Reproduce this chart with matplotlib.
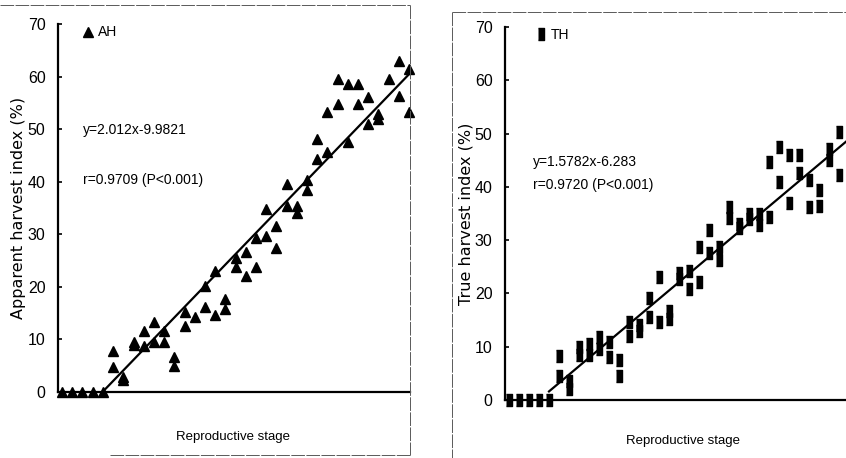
import numpy as np
import matplotlib
matplotlib.use('Agg')
import matplotlib.pyplot as plt
from matplotlib.lines import Line2D

plt.rcParams['font.family'] = ['Liberation Sans', 'DejaVu Sans']

# apparent harvest index (AH), two readings per reproductive stage
ah_stage = [1, 2, 3, 4, 5,
            6, 6, 7, 7, 8, 8, 9, 9, 10, 10, 11, 11, 12, 12, 13, 13,
            14, 15, 15, 16, 16, 17, 17, 18, 18, 19, 19, 20, 20, 21, 21,
            22, 22, 23, 23, 24, 24, 25, 25, 26, 26, 27, 27, 28, 28,
            29, 29, 30, 30, 31, 31, 32, 32, 33, 34, 34, 35, 35]
ah_value = [0, 0, 0, 0, 0,
            7.8, 4.8, 2.9, 2.2, 9.5, 9.0, 11.6, 8.8, 13.4, 9.6, 11.6, 9.5, 6.6, 5.0, 15.3, 12.6,
            14.3, 20.2, 16.2, 23.0, 14.7, 17.7, 15.8, 25.4, 23.8, 26.7, 22.1, 29.2, 23.8, 34.9, 29.6,
            31.5, 27.3, 39.5, 35.3, 35.3, 34.1, 40.4, 38.5, 48.1, 44.3, 53.2, 45.6, 59.5, 54.8,
            58.6, 47.5, 58.6, 54.8, 56.1, 51.0, 52.9, 52.0, 59.5, 63.0, 56.3, 61.4, 53.2]

# true harvest index (TH)
th_stage = [1, 2, 3, 4, 5,
            6, 6, 7, 7, 8, 8, 9, 9, 10, 10, 11, 11, 12, 12, 13, 13,
            14, 14, 15, 15, 16, 16, 17, 17, 18, 18, 19, 19, 20, 20, 21, 21,
            22, 22, 23, 23, 24, 24, 25, 25, 26, 26, 27, 27, 28, 28,
            29, 29, 30, 30, 31, 31, 32, 32, 33, 33, 34, 34]
th_value = [0, 0, 0, 0, 0,
            8.2, 4.5, 3.5, 2.0, 10.0, 8.5, 10.5, 8.5, 11.8, 9.6, 10.9, 8.0, 7.5, 4.5, 14.6, 12.0,
            14.0, 13.0, 19.1, 15.6, 23.1, 14.6, 16.7, 15.2, 23.8, 22.7, 24.2, 20.8, 28.7, 22.1, 31.9, 27.6,
            28.8, 26.2, 36.2, 34.1, 33.0, 32.2, 35.0, 34.0, 35.0, 32.8, 44.7, 34.3, 47.5, 41.0,
            46.0, 37.0, 46.0, 42.6, 41.3, 36.2, 39.4, 36.4, 47.1, 45.0, 50.3, 42.2]

ah_fit = (2.012, -9.9821)
th_fit = (1.5782, -6.283)
yticks = [0, 10, 20, 30, 40, 50, 60, 70]

W, H = 846, 458
fig = plt.figure(figsize=(W / 100, H / 100), dpi=100)


def px_axes(x0, y0, x1, y1):
    # pixel box (top-left origin) -> figure fraction
    return fig.add_axes([x0 / W, 1 - y1 / H, (x1 - x0) / W, (y1 - y0) / H])


def style_axes(ax, xlim, ylabel):
    ax.set_xlim(*xlim)
    ax.set_ylim(0, 70)
    ax.set_yticks(yticks)
    ax.set_xticks([])
    for side in ('top', 'right'):
        ax.spines[side].set_visible(False)
    for side in ('left', 'bottom'):
        ax.spines[side].set_linewidth(1.6)
    ax.tick_params(axis='y', direction='in', length=3, width=1.2,
                   labelsize=11.5, pad=9)
    ax.set_ylabel(ylabel, family='DejaVu Sans', fontsize=11.5, labelpad=1)


# left panel: AH
ax1 = px_axes(58, 24, 410, 392)
style_axes(ax1, (0.6, 35.1), 'Apparent harvest index (%)')
ax1.plot(ah_stage, ah_value, '^', color='black', ms=6.5, clip_on=False)
xs = np.array([5, 35])
ax1.plot(xs, ah_fit[0] * xs + ah_fit[1], color='black', lw=1.6)
ax1.legend(handles=[Line2D([], [], marker='^', ls='', color='black', ms=6.5, label='AH')],
           loc='upper left', bbox_to_anchor=(0.03, 1.03), frameon=False,
           handletextpad=0.2, handlelength=1.0, fontsize=10)
ax1.text(0.071, 0.712, 'y=2.012x-9.9821', transform=ax1.transAxes,
         fontsize=10, va='center')
ax1.text(0.071, 0.576, 'r=0.9709 (P<0.001)', transform=ax1.transAxes,
         fontsize=10, va='center')
fig.text(233 / W, 1 - 437 / H, 'Reproductive stage', ha='center',
         va='center', fontsize=9.5)

# right panel: TH
rect = [(-0.55, -1), (0.55, -1), (0.55, 1), (-0.55, 1)]
ax2 = px_axes(505, 27, 846, 400)
style_axes(ax2, (0.6, 34.7), 'True harvest index (%)')
ax2.plot(th_stage, th_value, ls='', marker=rect, color='black', ms=9,
         clip_on=False)
xs = np.array([5, 36])
ax2.plot(xs, th_fit[0] * xs + th_fit[1], color='black', lw=1.6)
ax2.legend(handles=[Line2D([], [], marker=rect, ls='', color='black', ms=9, label='TH')],
           loc='upper left', bbox_to_anchor=(0.05, 1.03), frameon=False,
           handletextpad=0.2, handlelength=1.0, fontsize=10)
ax2.text(0.082, 0.638, 'y=1.5782x-6.283', transform=ax2.transAxes,
         fontsize=10, va='center')
ax2.text(0.082, 0.576, 'r=0.9720 (P<0.001)', transform=ax2.transAxes,
         fontsize=10, va='center')
fig.text(683 / W, 1 - 441 / H, 'Reproductive stage', ha='center',
         va='center', fontsize=9.5)

# scanned panel frames
frame = dict(color='0.35', lw=0.7, ls=(0, (14, 1.5)), transform=fig.transFigure)
fig.add_artist(Line2D([0, 410 / W], [1 - 5 / H] * 2, **frame))
fig.add_artist(Line2D([410 / W] * 2, [1 - 5 / H, 1 - 455 / H], **frame))
fig.add_artist(Line2D([110 / W, 410 / W], [1 - 455 / H] * 2, **frame))
fig.add_artist(Line2D([452 / W] * 2, [1 - 12 / H, 0], **frame))
fig.add_artist(Line2D([452 / W, 1], [1 - 12 / H] * 2, **frame))

fig.savefig('out.png', dpi=100)
